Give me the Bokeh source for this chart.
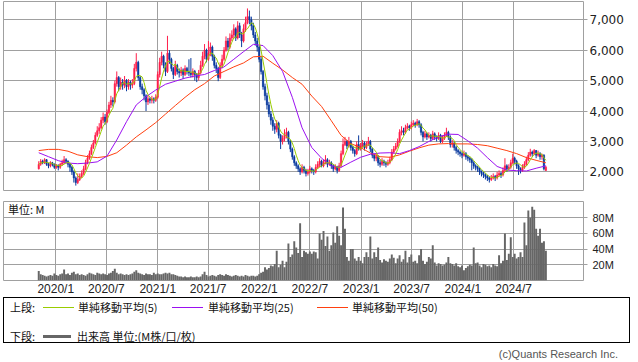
import numpy as np
import pandas as pd
from datetime import datetime
from bokeh.plotting import figure
from bokeh.models import (ColumnDataSource, Range1d, FixedTicker, NumeralTickFormatter,
                          PrintfTickFormatter, Label, Div, GlobalInlineStyleSheet)
from bokeh.layouts import column
from bokeh.embed import file_html
from bokeh.resources import INLINE

# ---------------- data (weekly) ----------------
first_week = "2019-11-01"
n_weeks = 261

opens = [2100, 2250, 2350, 2300, 2400, 2250, 2200, 2300, 2250, 2150, 2200, 2150, 2250, 2300, 2400, 2350, 2250, 2150, 2000, 1800, 1650,
         1750, 1850, 1950, 2100, 2300, 2450, 2600, 2800, 2950, 3200, 3350, 3450, 3700, 3800, 3650, 3950, 4200, 4350, 4300, 4900,
         5100, 4800, 4950, 4850, 5000, 4800, 4950, 4850, 4900, 5400, 5600, 5100, 4800, 4700, 4500, 4300, 4400, 4350, 4400, 4350,
         4450, 5200, 5600, 5800, 5500, 5300, 5900, 5700, 5400, 5200, 5500, 5300, 5250, 5350, 5200, 5400, 5300, 5250, 5200, 5300,
         5200, 5100, 5250, 5500, 5800, 6000, 5700, 5900, 6100, 5800, 5500, 5400, 5100, 5500, 5700, 6000, 6300, 6100, 6400, 6500,
         6700, 6400, 6800, 6500, 6300, 6700, 6900, 7100, 7000, 6800, 6500, 6300, 6100, 5700, 5300, 4800, 4500, 4200, 3900, 3700,
         3500, 3400, 3600, 3200, 3000, 3100, 3200, 3300, 3000, 2750, 2500, 2300, 2200, 2100, 2000, 2150, 2050, 1950, 2000, 2100,
         2050, 2000, 2150, 2250, 2350, 2200, 2300, 2400, 2250, 2300, 2200, 2100, 2150, 2050, 2200, 2600, 2900, 3000, 2850, 3000,
         2800, 2700, 2600, 2900, 2750, 2850, 2950, 2800, 2900, 3000, 2750, 2550, 2450, 2500, 2300, 2250, 2350, 2300, 2250, 2300,
         2400, 2650, 2750, 2850, 3000, 3300, 3350, 3300, 3450, 3500, 3450, 3550, 3600, 3550, 3650, 3550, 3300, 3150, 3250, 3150,
         3200, 3100, 3250, 3150, 3100, 3200, 3000, 3100, 3200, 3300, 3150, 2900, 2950, 2800, 2700, 2650, 2600, 2550, 2600, 2500,
         2450, 2400, 2300, 2200, 2150, 2100, 2000, 1950, 1900, 1850, 1800, 1750, 1800, 1850, 1800, 1900, 1950, 1900, 2050, 2200,
         2100, 2150, 2300, 2450, 2350, 2200, 2100, 2050, 2150, 2250, 2400, 2550, 2650, 2600, 2700, 2550, 2600, 2500, 2550, 2050]

closes = [2250, 2350, 2300, 2400, 2250, 2200, 2300, 2250, 2150, 2200, 2150, 2250, 2300, 2400, 2350, 2250, 2150, 2000, 1800, 1650, 1750,
          1850, 1950, 2100, 2300, 2450, 2600, 2800, 2950, 3200, 3350, 3450, 3700, 3800, 3650, 3950, 4200, 4350, 4300, 4900, 5100,
          4800, 4950, 4850, 5000, 4800, 4950, 4850, 4900, 5400, 5600, 5100, 4800, 4700, 4500, 4300, 4400, 4350, 4400, 4350, 4450,
          5200, 5600, 5800, 5500, 5300, 5900, 5700, 5400, 5200, 5500, 5300, 5250, 5350, 5200, 5400, 5300, 5250, 5200, 5300, 5200,
          5100, 5250, 5500, 5800, 6000, 5700, 5900, 6100, 5800, 5500, 5400, 5100, 5500, 5700, 6000, 6300, 6100, 6400, 6500, 6700,
          6400, 6800, 6500, 6300, 6700, 6900, 7100, 7000, 6800, 6500, 6300, 6100, 5700, 5300, 4800, 4500, 4200, 3900, 3700, 3500,
          3400, 3600, 3200, 3000, 3100, 3200, 3300, 3000, 2750, 2500, 2300, 2200, 2100, 2000, 2150, 2050, 1950, 2000, 2100, 2050,
          2000, 2150, 2250, 2350, 2200, 2300, 2400, 2250, 2300, 2200, 2100, 2150, 2050, 2200, 2600, 2900, 3000, 2850, 3000, 2800,
          2700, 2600, 2900, 2750, 2850, 2950, 2800, 2900, 3000, 2750, 2550, 2450, 2500, 2300, 2250, 2350, 2300, 2250, 2300, 2400,
          2650, 2750, 2850, 3000, 3300, 3350, 3300, 3450, 3500, 3450, 3550, 3600, 3550, 3650, 3550, 3300, 3150, 3250, 3150, 3200,
          3100, 3250, 3150, 3100, 3200, 3000, 3100, 3200, 3300, 3150, 2900, 2950, 2800, 2700, 2650, 2600, 2550, 2600, 2500, 2450,
          2400, 2300, 2200, 2150, 2100, 2000, 1950, 1900, 1850, 1800, 1750, 1800, 1850, 1800, 1900, 1950, 1900, 2050, 2200, 2100,
          2150, 2300, 2450, 2350, 2200, 2100, 2050, 2150, 2250, 2400, 2550, 2650, 2600, 2700, 2550, 2600, 2500, 2550, 2100, 2150]

highs = [2350, 2420, 2400, 2450, 2420, 2300, 2350, 2330, 2280, 2260, 2250, 2300, 2400, 2520, 2450, 2380, 2300, 2200, 2050, 1850, 1950,
         1950, 2050, 2200, 2400, 2550, 2700, 2900, 3050, 3300, 3500, 3600, 3800, 3950, 3900, 4050, 4300, 4500, 4450, 5000, 5300,
         5150, 5100, 5050, 5150, 5050, 5050, 5000, 5050, 5550, 5900, 5650, 5150, 4900, 4750, 4550, 4500, 4450, 4500, 4450, 4550,
         5300, 5750, 5950, 5850, 5600, 6470, 6000, 5750, 5450, 5650, 5550, 5400, 5450, 5400, 5500, 5450, 5700, 5740, 5400, 5350,
         5250, 5350, 5650, 5950, 6200, 6050, 6300, 6250, 6150, 5850, 5600, 5450, 5600, 5850, 6100, 6450, 6400, 6550, 6650, 6850,
         6750, 6950, 6900, 6600, 6850, 7100, 7370, 7300, 7100, 6900, 6600, 6400, 6150, 5800, 5350, 4900, 4600, 4300, 4000, 3800,
         3600, 3700, 3650, 3250, 3200, 3400, 3450, 3350, 3050, 2800, 2550, 2350, 2250, 2150, 2250, 2200, 2100, 2100, 2200, 2150,
         2100, 2250, 2350, 2450, 2400, 2400, 2550, 2450, 2400, 2350, 2250, 2250, 2200, 2300, 2700, 3100, 3150, 3050, 3150, 3050,
         2850, 2750, 3000, 3200, 2950, 3050, 3000, 3000, 3150, 3050, 2800, 2600, 2600, 2550, 2400, 2450, 2400, 2350, 2400, 2500,
         2750, 2850, 2950, 3100, 3400, 3500, 3450, 3550, 3600, 3550, 3650, 3700, 3650, 3740, 3700, 3600, 3350, 3350, 3300, 3300,
         3250, 3350, 3300, 3200, 3300, 3250, 3200, 3300, 3450, 3350, 3200, 3050, 3000, 2850, 2750, 2700, 2650, 2700, 2650, 2550,
         2500, 2450, 2350, 2250, 2200, 2150, 2050, 2000, 1950, 1900, 1850, 1900, 1950, 1900, 2000, 2050, 2000, 2150, 2450, 2250,
         2250, 2400, 2600, 2500, 2400, 2250, 2150, 2250, 2350, 2500, 2650, 2760, 2700, 2750, 2720, 2700, 2650, 2600, 2580, 2200]

lows = [2080, 2200, 2250, 2260, 2200, 2120, 2150, 2180, 2100, 2100, 2050, 2100, 2200, 2250, 2280, 2150, 2000, 1900, 1650, 1550, 1600,
        1700, 1800, 1900, 2050, 2250, 2400, 2550, 2750, 2900, 3150, 3250, 3400, 3600, 3550, 3600, 3900, 4100, 4150, 4250, 4800,
        4650, 4700, 4700, 4750, 4650, 4700, 4700, 4750, 4850, 5300, 5000, 4700, 4550, 4350, 4000, 4200, 4250, 4250, 4250, 4300,
        4400, 5100, 5500, 5400, 5150, 5250, 5550, 5300, 5050, 5150, 5200, 5100, 5150, 5050, 5150, 5200, 5150, 5100, 5100, 5000,
        4950, 5000, 5200, 5450, 5700, 5600, 5650, 5800, 5650, 5400, 5250, 4980, 5050, 5400, 5650, 5950, 6000, 6050, 6300, 6400,
        6300, 6350, 6400, 6100, 6250, 6600, 6850, 6850, 6650, 6400, 6150, 5950, 5600, 5200, 4700, 4350, 4050, 3800, 3550, 3350,
        3250, 3300, 3100, 2750, 2900, 3000, 3100, 2900, 2650, 2400, 2200, 2100, 2000, 1900, 1950, 1950, 1850, 1880, 1950, 1950,
        1900, 1950, 2100, 2150, 2150, 2150, 2250, 2150, 2200, 2100, 2000, 2050, 1950, 2000, 2150, 2550, 2850, 2750, 2800, 2700,
        2600, 2500, 2550, 2700, 2700, 2800, 2700, 2750, 2850, 2650, 2450, 2350, 2350, 2200, 2150, 2200, 2200, 2150, 2200, 2250,
        2350, 2600, 2700, 2800, 2950, 3200, 3200, 3250, 3400, 3350, 3400, 3500, 3450, 3500, 3450, 3200, 3000, 3100, 3050, 3100,
        3000, 3050, 3050, 3000, 3050, 2950, 2950, 3050, 3150, 3050, 2800, 2800, 2700, 2600, 2550, 2500, 2450, 2500, 2400, 2350,
        2300, 2050, 2100, 2050, 2000, 1900, 1850, 1800, 1750, 1700, 1650, 1700, 1750, 1700, 1750, 1850, 1800, 1850, 2000, 2000,
        2050, 2100, 2250, 2250, 2100, 1900, 1950, 2000, 2100, 2200, 2350, 2500, 2500, 2550, 2450, 2500, 2400, 2400, 2050, 2030]

volume_m = [12, 8, 7, 6, 5, 6, 7, 6, 9, 7, 6, 8, 9, 14, 8, 9, 7, 10, 11, 8, 9, 7, 8, 7, 6, 8, 10,
            9, 8, 7, 10, 9, 8, 9, 8, 7, 9, 10, 12, 15, 10, 8, 9, 8, 7, 8, 7, 8, 9, 11, 13, 10, 9, 8,
            7, 9, 8, 8, 7, 10, 8, 9, 8, 8, 9, 10, 9, 10, 8, 8, 7, 6, 5, 5, 4, 5, 4, 4, 5, 4, 4,
            5, 4, 5, 8, 11, 7, 5, 6, 7, 6, 5, 7, 8, 7, 6, 8, 7, 6, 5, 6, 7, 6, 5, 6, 5, 7, 6,
            5, 6, 6, 5, 6, 8, 10, 11, 17, 14, 16, 19, 18, 21, 38, 17, 20, 25, 17, 24, 47, 30, 33, 50, 42, 35, 73,
            30, 38, 36, 34, 37, 34, 37, 36, 28, 60, 52, 63, 44, 56, 38, 45, 61, 48, 69, 57, 45, 93, 66, 30, 25, 40, 40,
            28, 25, 30, 25, 22, 30, 36, 30, 56, 28, 36, 30, 42, 26, 23, 27, 25, 24, 28, 33, 29, 22, 28, 32, 24, 27, 38,
            23, 30, 33, 24, 25, 22, 32, 40, 25, 21, 24, 30, 28, 45, 23, 19, 22, 21, 19, 20, 23, 30, 22, 21, 19, 22, 18,
            17, 19, 13, 16, 18, 20, 19, 42, 22, 23, 19, 17, 21, 20, 18, 19, 17, 21, 19, 18, 32, 22, 25, 60, 26, 34, 55,
            30, 34, 28, 30, 36, 30, 74, 45, 89, 80, 94, 90, 66, 57, 66, 48, 50, 38]

# moving averages, one value every 5 weeks
ma_step = 5
ma25 = [2630, 2500, 2370, 2290, 2270, 2290, 2330, 2520, 3050, 3650, 4200, 4470, 4690, 4880, 4980, 5080, 5150, 5200,
        5330, 5450, 5700, 5950, 6190, 6150, 5820, 5300, 4450, 3450, 2800, 2450, 2200, 2150, 2320, 2480, 2580, 2620,
        2630, 2600, 2700, 2830, 3000, 3150, 3240, 3230, 3020, 2780, 2470, 2180, 2060, 2040, 2030, 2120, 2200]
ma50 = [2700, 2740, 2740, 2680, 2560, 2500, 2470, 2510, 2630, 2880, 3150, 3380, 3620, 3900, 4180, 4450, 4700, 4900,
        5150, 5300, 5450, 5580, 5780, 5800, 5570, 5350, 5100, 4880, 4490, 4150, 3680, 3200, 2930, 2800, 2620, 2500,
        2480, 2560, 2680, 2790, 2880, 2920, 2930, 2920, 2920, 2900, 2860, 2780, 2700, 2600, 2470, 2380, 2300]

price_ticks = [2000, 3000, 4000, 5000, 6000, 7000]
volume_ticks = [20, 40, 60, 80]
date_ticks = ["2020-01-01", "2020-07-01", "2021-01-01", "2021-07-01", "2022-01-01",
              "2022-07-01", "2023-01-01", "2023-07-01", "2024-01-01", "2024-07-01"]
date_labels = ["2020/1", "2020/7", "2021/1", "2021/7", "2022/1",
               "2022/7", "2023/1", "2023/7", "2024/1", "2024/7"]

# ---------------- styling ----------------
RED = "#ff1f4b"
BLUE = "#0a3a9e"
MA5_C = "#99cc00"
MA25_C = "#9b10f0"
MA50_C = "#ff4010"
GRID = "#a0a0a0"
VOL_C = "#666666"
DAY_MS = 86400000

dates = pd.date_range(first_week, periods=n_weeks, freq="7D")
df = pd.DataFrame(dict(date=dates, open=opens, high=highs, low=lows, close=closes, vol=volume_m))
df["top"] = df[["open", "close"]].max(axis=1)
df["bottom"] = df[["open", "close"]].min(axis=1)
df["color"] = np.where(df["close"] >= df["open"], RED, BLUE)
df["ma5"] = df["close"].rolling(5, min_periods=1).mean()
src = ColumnDataSource(df)

ma_src = ColumnDataSource(dict(date=dates[::ma_step], ma25=ma25, ma50=ma50))

x_range = Range1d(datetime(2019, 6, 27, 12), datetime(2025, 3, 9))
tick_ms = [int(pd.Timestamp(d).value // 10**6) for d in date_ticks]

W = 636

# ---------------- price panel ----------------
p1 = figure(width=W, height=191, x_axis_type="datetime", x_axis_location=None,
            y_axis_location="right", x_range=x_range, y_range=Range1d(1389, 7598),
            output_backend="svg", toolbar_location=None,
            min_border_left=3, min_border_right=W - 583, min_border_top=1, min_border_bottom=1)
p1.outline_line_color = GRID
p1.outline_line_alpha = 1.0
p1.xgrid.ticker = FixedTicker(ticks=tick_ms)
p1.grid.grid_line_color = GRID
p1.grid.grid_line_alpha = 1.0
p1.yaxis.ticker = FixedTicker(ticks=price_ticks)
p1.yaxis.formatter = NumeralTickFormatter(format="0,0")
p1.yaxis.axis_line_color = None
p1.yaxis.major_tick_line_color = GRID
p1.yaxis.major_tick_out = 4
p1.yaxis.major_tick_in = 0
p1.yaxis.minor_tick_line_color = None
p1.yaxis.major_label_standoff = 2
p1.yaxis.major_label_text_font = "DejaVu Sans"
p1.yaxis.major_label_text_font_size = "12px"
p1.yaxis.major_label_text_color = "#222222"

p1.segment(x0="date", y0="high", x1="date", y1="low", line_color="color", line_width=1, source=src)
p1.vbar(x="date", width=5 * DAY_MS, top="top", bottom="bottom", fill_color="color",
        line_color="color", line_width=0.5, source=src)
p1.line(x="date", y="ma50", line_color=MA50_C, line_width=1, source=ma_src)
p1.line(x="date", y="ma25", line_color=MA25_C, line_width=1, source=ma_src)
p1.line(x="date", y="ma5", line_color=MA5_C, line_width=1, source=src)

# ---------------- volume panel ----------------
p2 = figure(width=W, height=114, x_axis_type="datetime", y_axis_location="right",
            x_range=x_range, y_range=Range1d(0, 100.6),
            output_backend="svg", toolbar_location=None,
            min_border_left=3, min_border_right=W - 583, min_border_top=10, min_border_bottom=25)
p2.outline_line_color = GRID
p2.outline_line_alpha = 1.0
p2.grid.grid_line_color = GRID
p2.grid.grid_line_alpha = 1.0
p2.xaxis.ticker = FixedTicker(ticks=tick_ms)
p2.xaxis.major_label_overrides = {t: lab for t, lab in zip(tick_ms, date_labels)}
p2.xaxis.axis_line_color = None
p2.xaxis.major_tick_line_color = None
p2.xaxis.minor_tick_line_color = None
p2.xaxis.major_tick_out = 0
p2.xaxis.major_label_standoff = 1
p2.xaxis.major_label_text_font = "Liberation Sans"
p2.xaxis.major_label_text_font_size = "12px"
p2.xaxis.major_label_text_color = "#222222"
p2.yaxis.ticker = FixedTicker(ticks=volume_ticks)
p2.yaxis.formatter = PrintfTickFormatter(format="%dM")
p2.yaxis.axis_line_color = None
p2.yaxis.major_tick_line_color = GRID
p2.yaxis.major_tick_out = 4
p2.yaxis.major_tick_in = 0
p2.yaxis.minor_tick_line_color = None
p2.yaxis.major_label_standoff = 5
p2.yaxis.major_label_text_font = "Liberation Sans"
p2.yaxis.major_label_text_font_size = "11px"
p2.yaxis.major_label_text_color = "#222222"

p2.vbar(x="date", width=7 * DAY_MS, top="vol", bottom=0, fill_color=VOL_C,
        line_color=None, source=src)
unit_x = pd.Timestamp("2019-07-14").value // 10**6
p2.add_layout(Label(x=unit_x, y=90.5, text="単位: M", text_font="Noto Sans CJK JP",
                    text_font_size="11px", text_baseline="middle", text_color="#111111"))

# ---------------- legend & credit ----------------
legend_html = """
<div style="position:relative;margin-left:3px;width:627px;height:46px;
border:1px solid #000;font-family:'Noto Sans CJK JP';font-size:11px;color:#111;line-height:13px;">
<span style="position:absolute;left:6px;top:3px;">上段:</span>
<span style="position:absolute;left:39px;top:9px;width:31px;height:1px;background:#99cc00;"></span>
<span style="position:absolute;left:74px;top:3px;">単純移動平均(5)</span>
<span style="position:absolute;left:168px;top:9px;width:31px;height:1px;background:#9b10f0;"></span>
<span style="position:absolute;left:204px;top:3px;">単純移動平均(25)</span>
<span style="position:absolute;left:313px;top:9px;width:31px;height:1px;background:#ff4010;"></span>
<span style="position:absolute;left:348px;top:3px;">単純移動平均(50)</span>
<span style="position:absolute;left:6px;top:32px;">下段:</span>
<span style="position:absolute;left:39px;top:37px;width:28px;height:3px;background:#666666;"></span>
<span style="position:absolute;left:73px;top:32px;">出来高 単位:(M株/口/枚)</span>
</div>
"""
legend_div = Div(text=legend_html, width=W, height=48, margin=(-8, 0, 0, 0))
credit_div = Div(text='<div style="width:618px;text-align:right;font-family:\'Liberation Sans\';'
                      'font-size:11px;color:#555;line-height:15px;">(c)Quants Research Inc.</div>',
                 width=W, height=15, margin=(1, 0, 0, 0))

page = column(p1, p2, legend_div, credit_div,
              stylesheets=[GlobalInlineStyleSheet(css="body { margin: 0 !important; }")])

open("out.html", "w").write(file_html(page, INLINE))
